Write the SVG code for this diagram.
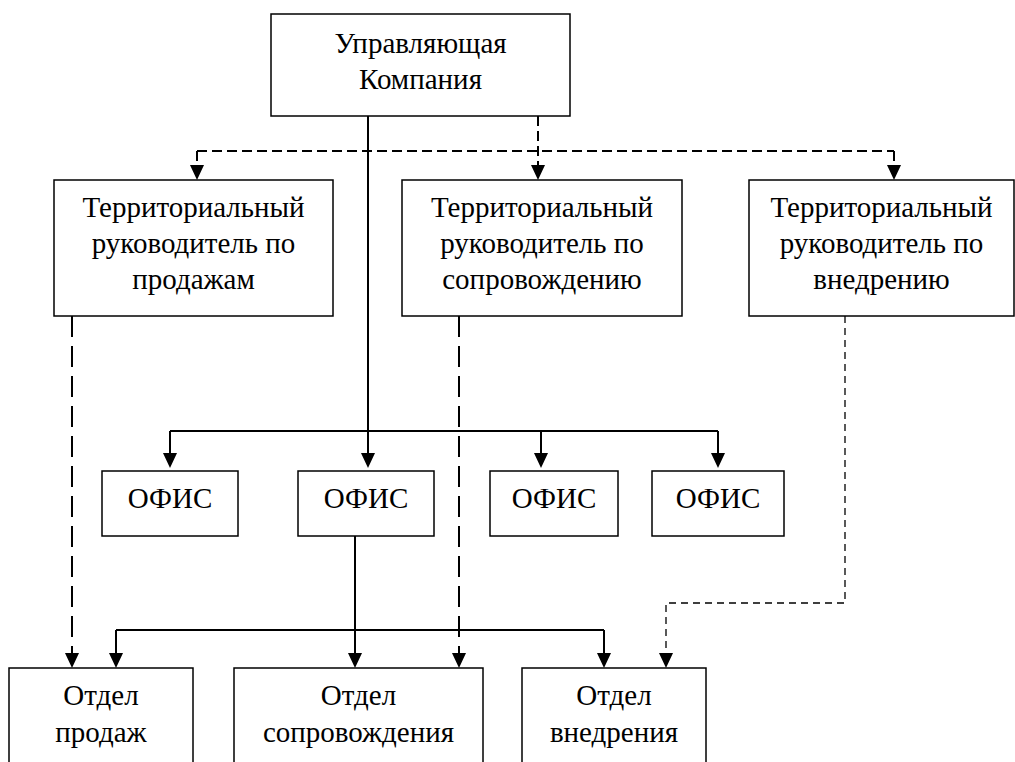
<svg xmlns="http://www.w3.org/2000/svg" width="1015" height="762" viewBox="0 0 1015 762">
<style>
.box{fill:#fff;stroke:#000;stroke-width:1.5}
text{font-family:'Liberation Serif','DejaVu Serif',serif;font-size:29px;fill:#000;text-anchor:middle}
.solid{fill:none;stroke:#000;stroke-width:2}
.dash{fill:none;stroke:#000;stroke-width:2;stroke-dasharray:10 5}
.dashv{fill:none;stroke:#000;stroke-width:2;stroke-dasharray:21 9}
.dasht{fill:none;stroke:#000;stroke-width:1.3;stroke-dasharray:7 5}
.ah{fill:#000;stroke:none}
</style>
<defs>
<polygon id="arr" points="-7,-15 7,-15 0,0"/>
</defs>
<rect width="1015" height="762" fill="#fff"/>
<g id="connectors">
<path class="solid" d="M368,116 V431 M170,431 H718 M170,431 V455 M368,431 V455 M541,431 V455 M718,431 V455"/>
<path class="dash" d="M538,116 V168 M197,151 H894 M197,151 V168 M894,151 V168"/>
<path class="dashv" d="M72,316 V655 M459,316 V655"/>
<path class="dasht" d="M845,316 V603 H666 V655"/>
<path class="solid" d="M355,536 V655 M116,630 H604 M116,630 V655 M604,630 V655"/>
<g class="ah">
<use href="#arr" x="197" y="180"/>
<use href="#arr" x="538" y="180"/>
<use href="#arr" x="894" y="180"/>
<use href="#arr" x="170" y="468"/>
<use href="#arr" x="368" y="468"/>
<use href="#arr" x="541" y="468"/>
<use href="#arr" x="718" y="468"/>
<use href="#arr" x="72" y="668"/>
<use href="#arr" x="116" y="668"/>
<use href="#arr" x="355" y="668"/>
<use href="#arr" x="459" y="668"/>
<use href="#arr" x="604" y="668"/>
<use href="#arr" x="666" y="668"/>
</g>
</g>
<g id="uk">
<rect class="box" x="271" y="14" width="299" height="102"/>
<text x="420.5" y="53">Управляющая</text>
<text x="420.5" y="89">Компания</text>
</g>
<g id="tr-sales">
<rect class="box" x="54" y="180" width="279" height="136"/>
<text x="193.5" y="217">Территориальный</text>
<text x="193.5" y="253">руководитель по</text>
<text x="193.5" y="289">продажам</text>
</g>
<g id="tr-support">
<rect class="box" x="402" y="180" width="280" height="136"/>
<text x="542" y="217">Территориальный</text>
<text x="542" y="253">руководитель по</text>
<text x="542" y="289">сопровождению</text>
</g>
<g id="tr-impl">
<rect class="box" x="749" y="180" width="265" height="136"/>
<text x="881.5" y="217">Территориальный</text>
<text x="881.5" y="253">руководитель по</text>
<text x="881.5" y="289">внедрению</text>
</g>
<g id="office1">
<rect class="box" x="102" y="471" width="136" height="65"/>
<text x="170" y="508">ОФИС</text>
</g>
<g id="office2">
<rect class="box" x="298" y="471" width="136" height="65"/>
<text x="366" y="508">ОФИС</text>
</g>
<g id="office3">
<rect class="box" x="490" y="471" width="128" height="65"/>
<text x="554" y="508">ОФИС</text>
</g>
<g id="office4">
<rect class="box" x="652" y="471" width="132" height="65"/>
<text x="718" y="508">ОФИС</text>
</g>
<g id="dept-sales">
<rect class="box" x="9" y="668" width="184" height="110"/>
<text x="101" y="705">Отдел</text>
<text x="101" y="742">продаж</text>
</g>
<g id="dept-support">
<rect class="box" x="234" y="668" width="249" height="110"/>
<text x="358.5" y="705">Отдел</text>
<text x="358.5" y="742">сопровождения</text>
</g>
<g id="dept-impl">
<rect class="box" x="522" y="668" width="184" height="110"/>
<text x="614" y="705">Отдел</text>
<text x="614" y="742">внедрения</text>
</g>
</svg>
